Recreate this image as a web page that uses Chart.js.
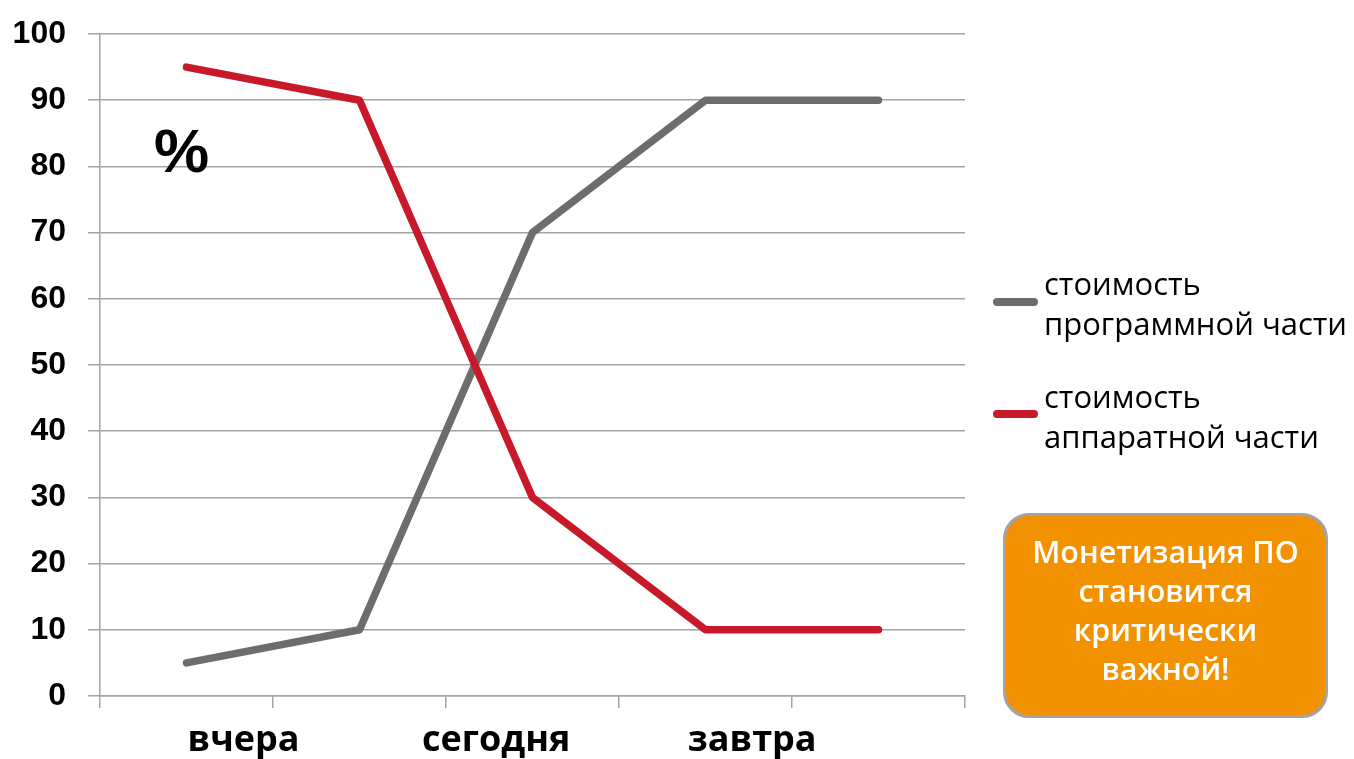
<!DOCTYPE html>
<html><head><meta charset="utf-8">
<script src="https://cdn.jsdelivr.net/npm/chart.js@4"></script>
<style>
html,body{margin:0;padding:0;background:#fff;}
#wrap{position:relative;width:1354px;height:759px;overflow:hidden;}
#c{position:absolute;left:0;top:0;}
.t{position:absolute;white-space:nowrap;}
#pct{left:154px;top:120px;font:bold 62px "Liberation Sans",Arial,sans-serif;line-height:62px;color:#000;}
.leg{font:31px "Open Sans",sans-serif;line-height:40px;color:#000;left:1044px;}
.bar{position:absolute;left:993px;width:45px;height:8px;border-radius:4px;}
#box{position:absolute;left:1003px;top:513px;width:325px;height:205px;box-sizing:border-box;border:3px solid #a3a3a3;border-radius:26px;background:#f39200;}
#boxt{left:1003px;width:325px;top:532px;text-align:center;font:600 30.5px "Open Sans",sans-serif;line-height:39px;color:#fff;}
</style></head><body>
<div id="wrap">
<canvas id="c" width="1354" height="759"></canvas>
<div id="pct" class="t">%</div>
<div class="bar" style="top:298px;background:#6d6d6d"></div>
<div class="t leg" style="top:263px">стоимость<br>программной части</div>
<div class="bar" style="top:410px;background:#c8192b"></div>
<div class="t leg" style="top:376px">стоимость<br>аппаратной части</div>
<div id="box"></div>
<div id="boxt" class="t">Монетизация ПО<br>становится<br>критически<br>важной!</div>
</div>
<script>
const periods = ['p1', 'p2', 'p3', 'p4', 'p5'];
const axisLabels = ['вчера', 'сегодня', 'завтра'];
const softwareCost = [5, 10, 70, 90, 90];
const hardwareCost = [95, 90, 30, 10, 10];
const yTicks = [0, 10, 20, 30, 40, 50, 60, 70, 80, 90, 100];

const gridColor = '#a3a3a3';
new Chart(document.getElementById('c'), {
  type: 'line',
  data: {
    labels: periods,
    datasets: [
      { label: 'стоимость программной части', data: softwareCost, borderColor: '#6d6d6d', backgroundColor: '#6d6d6d',
        borderWidth: 7.5, pointRadius: 0, tension: 0, borderCapStyle: 'round', borderJoinStyle: 'round', order: 1 },
      { label: 'стоимость аппаратной части', data: hardwareCost, borderColor: '#c8192b', backgroundColor: '#c8192b',
        borderWidth: 7.5, pointRadius: 0, tension: 0, borderCapStyle: 'round', borderJoinStyle: 'round', order: 0 }
    ]
  },
  options: {
    responsive: false,
    animation: false,
    devicePixelRatio: 1,
    layout: { padding: { top: 34, right: 389, bottom: 0, left: 0 } },
    plugins: { legend: { display: false }, tooltip: { enabled: false } },
    scales: {
      x: {
        type: 'category', position: 'bottom', offset: true, weight: 0,
        grid: { offset: true, drawOnChartArea: false, drawTicks: true, tickLength: 12, color: gridColor, lineWidth: 1.5 },
        border: { display: true, color: gridColor, width: 1.5 },
        ticks: { display: false },
        afterFit: s => { s.height = 12; }
      },
      x2: {
        type: 'linear', position: 'bottom', min: 0, max: 5, weight: 1,
        grid: { display: false, drawTicks: false },
        border: { display: false },
        afterBuildTicks: s => { s.ticks = [0.83, 2.29, 3.77].map(v => ({ value: v })); },
        ticks: {
          autoSkip: false, maxRotation: 0, padding: 11, color: '#000',
          font: { family: '"Open Sans", sans-serif', size: 36, weight: 'bold' },
          callback: (v, i) => axisLabels[i]
        },
        afterFit: s => { s.height = 51; s.paddingLeft = 0; s.paddingRight = 0; }
      },
      y: {
        type: 'linear', min: 0, max: 100,
        afterBuildTicks: s => { s.ticks = yTicks.map(v => ({ value: v })); },
        grid: { color: gridColor, lineWidth: 1.5, tickLength: 12, drawTicks: true },
        border: { display: true, color: gridColor, width: 1.5 },
        ticks: { padding: 22, color: '#000', font: { family: '"Liberation Sans", Arial, sans-serif', size: 32, weight: 'bold', lineHeight: 1 } },
        afterFit: s => { s.width = 100; s.paddingTop = 0; s.paddingBottom = 0; }
      }
    }
  }
});
</script>
</body></html>
